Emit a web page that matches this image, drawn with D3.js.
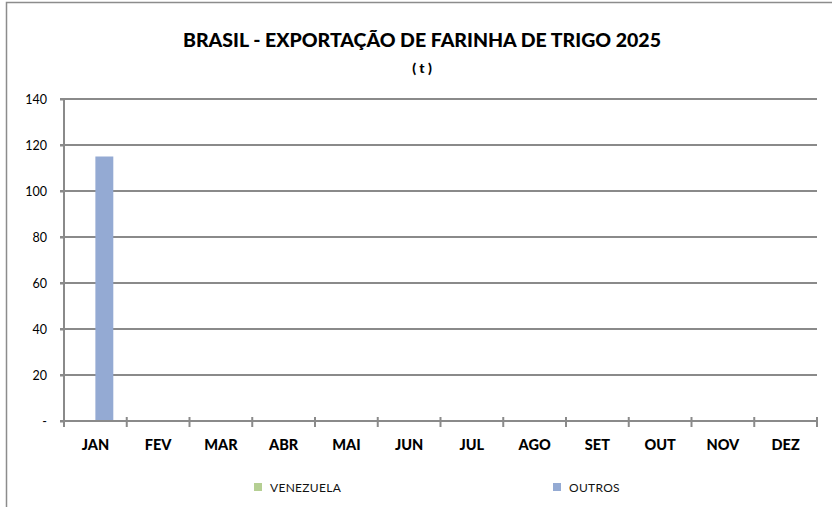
<!DOCTYPE html>
<html>
<head>
<meta charset="utf-8">
<script src="https://cdn.jsdelivr.net/npm/d3@7"></script>
<style>
  body { margin: 0; background: #fff; }
  svg { display: block; font-family: Lato, "Open Sans", sans-serif; }
</style>
</head>
<body>
<svg id="chart" width="832" height="507"></svg>
<script>
// dados do grafico
const meses = ["JAN", "FEV", "MAR", "ABR", "MAI", "JUN", "JUL", "AGO", "SET", "OUT", "NOV", "DEZ"];
const series = ["VENEZUELA", "OUTROS"];
const venezuela = [0, 0, 0, 0, 0, 0, 0, 0, 0, 0, 0, 0];
const outros = [115, 0, 0, 0, 0, 0, 0, 0, 0, 0, 0, 0];
const yTicks = [0, 20, 40, 60, 80, 100, 120, 140];
const cores = ["#B5CF93", "#94AAD3"];

const width = 832;
const height = 507;
const margin = {top: 99, right: 15, bottom: 86, left: 64};

const svg = d3.select("#chart");

// moldura do grafico (sai pela direita e por baixo)
svg.append("rect")
    .attr("x", 6.5).attr("y", 2.5)
    .attr("width", 900).attr("height", 600)
    .attr("fill", "none")
    .attr("stroke", "#8c8c8c")
    .attr("stroke-width", 1.5);

const x = d3.scaleBand()
    .domain(meses)
    .range([margin.left, width - margin.right]);

const y = d3.scaleLinear()
    .domain([0, 140])
    .range([height - margin.bottom, margin.top]);

// linhas de grade
svg.append("g")
  .selectAll("line")
  .data(yTicks.slice(1))
  .join("line")
    .attr("x1", margin.left - 4)
    .attr("x2", width - margin.right)
    .attr("y1", d => y(d))
    .attr("y2", d => y(d))
    .attr("stroke", "#8a8a8a")
    .attr("stroke-width", 2);

// barras
const bw = x.bandwidth() / 3.5;
const dados = [venezuela, outros];
dados.forEach((vals, s) => {
  svg.append("g")
    .attr("fill", cores[s])
  .selectAll("rect")
    .data(vals)
    .join("rect")
      .attr("x", (d, i) => x(meses[i]) + bw * 0.75 + s * bw)
      .attr("y", d => y(d))
      .attr("width", bw)
      .attr("height", d => y(0) - y(d));
});

// eixo y
const yAxis = svg.append("g")
    .attr("transform", `translate(${margin.left},0)`)
    .call(d3.axisLeft(y)
      .tickValues(yTicks)
      .tickSize(4)
      .tickPadding(13)
      .tickFormat(d => d === 0 ? "-" : d));
yAxis.selectAll("line, path").attr("stroke", "#8a8a8a").attr("stroke-width", 2);
yAxis.select("path").attr("d", `M0,${y(140)}V${y(0) + 6}`);
yAxis.selectAll("text")
    .attr("font-family", "Lato, sans-serif")
    .attr("font-size", 12.5)
    .attr("fill", "#000");

// eixo x
const xAxis = svg.append("g")
    .attr("transform", `translate(0,${y(0)})`)
    .call(d3.axisBottom(x).tickSize(0).tickPadding(19));
xAxis.select("path").attr("stroke", "#8a8a8a").attr("stroke-width", 2)
    .attr("d", `M${margin.left - 4},0H${width - margin.right}`);
xAxis.selectAll("text")
    .attr("font-family", "Lato, sans-serif")
    .attr("font-weight", "900")
    .attr("font-size", 14.5)
    .attr("fill", "#000");
xAxis.append("g")
  .selectAll("line")
  .data(d3.range(meses.length + 1))
  .join("line")
    .attr("x1", i => margin.left + i * x.step())
    .attr("x2", i => margin.left + i * x.step())
    .attr("y1", -4)
    .attr("y2", 6)
    .attr("stroke", "#8a8a8a")
    .attr("stroke-width", 2);

// titulo
svg.append("text")
    .attr("x", 422).attr("y", 47)
    .attr("text-anchor", "middle")
    .attr("font-weight", "900")
    .attr("font-size", 19.5)
    .attr("fill", "#000")
    .text("BRASIL - EXPORTAÇÃO DE FARINHA DE TRIGO 2025");
svg.append("text")
    .attr("x", 422).attr("y", 73)
    .attr("text-anchor", "middle")
    .attr("font-weight", "900")
    .attr("font-size", 14)
    .attr("fill", "#000")
    .text("( t )");

// legenda
const legX = [254, 553];
const leg = svg.append("g")
  .selectAll("g")
  .data(series)
  .join("g")
    .attr("transform", (d, i) => `translate(${legX[i]},483)`);
leg.append("rect")
    .attr("width", 8).attr("height", 8)
    .attr("fill", (d, i) => cores[i]);
leg.append("text")
    .attr("x", 16).attr("y", 8.5)
    .attr("font-size", 12)
    .attr("letter-spacing", 0.3)
    .attr("fill", "#111")
    .text(d => d);
</script>
</body>
</html>
